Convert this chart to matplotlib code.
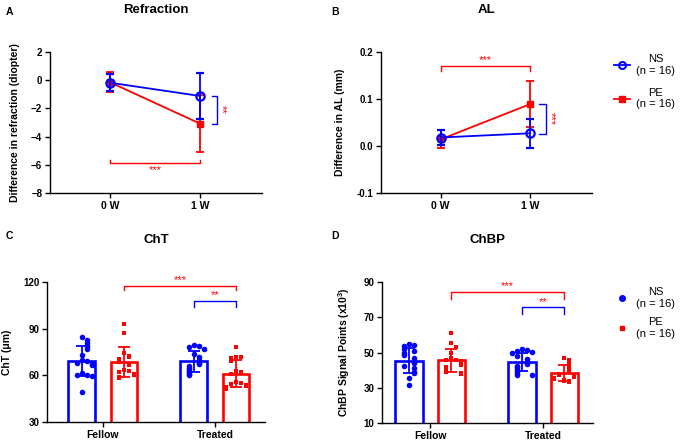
import numpy as np
import matplotlib
matplotlib.use('Agg')
from matplotlib import pyplot as plt
from matplotlib.lines import Line2D

plt.rcParams['font.family'] = ['Liberation Sans', 'DejaVu Sans']
plt.rcParams['mathtext.default'] = 'regular'

BLUE = '#0000FF'
RED = '#FF0000'

# ---- data: line charts (mean, SD) ----
weeks = ['0 W', '1 W']
refr_ns = [-0.18, -1.12]
refr_ns_sd = [0.6, 1.62]
refr_pe = [-0.15, -3.08]
refr_pe_sd = [0.72, 2.0]

al_ns = [0.018, 0.027]
al_ns_sd = [0.015, 0.031]
al_pe = [0.014, 0.089]
al_pe_sd = [0.019, 0.049]

# ---- data: bar charts (individual eyes) ----
groups = ['Fellow', 'Treated']
cht_ns_fellow = [84.5, 82.5, 81, 79, 77, 73, 70, 69, 68, 67.5, 66.5, 61.5, 60.5, 60, 59.5, 49.5]
cht_pe_fellow = [93, 87, 74.5, 72.5, 71.5, 70.5, 69.5, 68.5, 66.5, 63.5, 62.5, 62, 61, 60, 59, 58]
cht_ns_treated = [79.5, 79, 78, 77, 74, 72, 70, 68, 67, 66, 65, 64, 63, 62, 61, 60]
cht_pe_treated = [78, 72, 71.5, 71, 69, 63, 62, 61, 56, 55, 54.5, 54, 53, 52.5, 52, 51.5]

chbp_ns_fellow = [54.8, 54.3, 53.7, 51.8, 51, 49.5, 48.6, 46.7, 44.8, 43.9, 42.3, 41, 39.1, 38.2, 35.3, 31.6]
chbp_pe_fellow = [61, 55.5, 53, 50, 47, 46, 45.5, 45, 44, 43, 42, 41, 40, 39, 38.5, 38]
chbp_ns_treated = [52, 51.5, 51, 50.5, 49.5, 48, 46.5, 44.5, 43.5, 42.5, 41.5, 40.5, 39.5, 38.5, 37.5, 37]
chbp_pe_treated = [47, 46, 44, 42, 40, 39, 38, 37, 36.5, 36, 35.5, 35, 34.5, 34, 34, 33.5]

legend_labels = ['NS\n(n = 16)', 'PE\n(n = 16)']


def style_axes(ax):
    for s in ['top', 'right']:
        ax.spines[s].set_visible(False)
    for s in ['left', 'bottom']:
        ax.spines[s].set_linewidth(1.0)
    ax.tick_params(length=3.5, width=1.0, labelsize=7, pad=2)
    ax.tick_params(axis='x', labelsize=7.5)
    for lab in ax.get_xticklabels() + ax.get_yticklabels():
        lab.set_fontweight('bold')


def swarm(vals, step, thresh, kmax=2):
    # simple deterministic spreading of points with similar values
    offs = []
    placed = []
    for v in vals:
        n = sum(1 for p in placed if abs(p - v) < thresh)
        n = n % (2 * kmax + 1)
        k = (n + 1) // 2
        sign = 1 if n % 2 else -1
        offs.append(0 if n == 0 else sign * k * step)
        placed.append(v)
    return np.array(offs)


def bracket(ax, x1, x2, y, tip, color):
    ax.plot([x1, x1, x2, x2], [y - tip, y, y, y - tip], color=color, lw=1.0, clip_on=False)


fig = plt.figure(figsize=(6.85, 4.4), dpi=100)

# ---------- A: Refraction ----------
axA = fig.add_axes([0.073, 0.5614, 0.3095, 0.3205])
x = np.arange(len(weeks))
axA.errorbar(x, refr_pe, yerr=refr_pe_sd, color=RED, marker='s', ms=5, lw=1.3,
             capsize=3, capthick=1.3, elinewidth=1.3, zorder=3)
axA.errorbar(x, refr_ns, yerr=refr_ns_sd, color=BLUE, marker='o', ms=6, mfc='none',
             mew=1.6, lw=1.3, capsize=3, capthick=1.3, elinewidth=1.3, zorder=4)
axA.set_xlim(-0.667, 1.69)
axA.set_ylim(-8, 2)
axA.set_yticks(range(-8, 3, 2))
axA.set_xticks(x)
axA.set_xticklabels(weeks)
axA.set_ylabel('Difference in refraction (diopter)', fontsize=7.5, fontweight='bold', labelpad=8)
axA.set_title('Refraction', fontsize=9.5, fontweight='bold', pad=28)
style_axes(axA)
# vertical bracket 1W NS vs PE
axA.plot([1.13, 1.19, 1.19, 1.13], [refr_ns[1], refr_ns[1], refr_pe[1], refr_pe[1]],
         color=BLUE, lw=1.0, clip_on=False)
axA.text(1.245, (refr_ns[1] + refr_pe[1]) / 2, '**', color=RED, fontsize=8,
         rotation=-90, ha='center', va='center')
# horizontal bracket PE 0W vs 1W
bracket(axA, 0, 1, -5.9, -0.25, RED)
axA.text(0.5, -6.0, '***', color=RED, fontsize=8, ha='center', va='top')

# ---------- B: AL ----------
axB = fig.add_axes([0.556, 0.5614, 0.308, 0.3205])
axB.errorbar(x, al_pe, yerr=al_pe_sd, color=RED, marker='s', ms=5, lw=1.3,
             capsize=3, capthick=1.3, elinewidth=1.3, zorder=3)
axB.errorbar(x, al_ns, yerr=al_ns_sd, color=BLUE, marker='o', ms=6, mfc='none',
             mew=1.6, lw=1.3, capsize=3, capthick=1.3, elinewidth=1.3, zorder=4)
axB.set_xlim(-0.667, 1.69)
axB.set_ylim(-0.1, 0.2)
axB.set_yticks([-0.1, 0.0, 0.1, 0.2])
axB.set_yticklabels(['-0.1', '0.0', '0.1', '0.2'])
axB.set_xticks(x)
axB.set_xticklabels(weeks)
axB.set_ylabel('Difference in AL (mm)', fontsize=7.5, fontweight='bold', labelpad=8)
axB.set_title('AL', fontsize=9.5, fontweight='bold', pad=28)
style_axes(axB)
bracket(axB, 0, 1, 0.171, 0.011, RED)
axB.text(0.5, 0.172, '***', color=RED, fontsize=8, ha='center', va='bottom')
axB.plot([1.1, 1.178, 1.178, 1.1], [al_pe[1], al_pe[1], al_ns[1] - 0.002, al_ns[1] - 0.002],
         color=BLUE, lw=1.0, clip_on=False)
axB.text(1.235, (al_pe[1] + al_ns[1]) / 2, '***', color=RED, fontsize=8,
         rotation=-90, ha='center', va='center')

lh = [Line2D([], [], color=BLUE, marker='o', mfc='none', mew=1.5, ms=5, lw=1.3),
      Line2D([], [], color=RED, marker='s', ms=4.5, lw=1.3)]
legA = fig.legend(lh, legend_labels, loc='upper left', bbox_to_anchor=(0.882, 0.9),
                  frameon=False, fontsize=8, handlelength=1.4, handletextpad=0.6,
                  labelspacing=1.1)
for t in legA.get_texts():
    t.set_multialignment('center')


# ---------- bar charts ----------
def bar_panel(ax, ns_lists, pe_lists, off_ns, off_pe, width, thresh, step):
    for i, (ns, pe) in enumerate(zip(ns_lists, pe_lists)):
        for vals, off, col, mk, ms in [(ns, off_ns, BLUE, 'o', 16), (pe, off_pe, RED, 's', 8)]:
            vals = np.array(vals)
            m, sd = vals.mean(), vals.std(ddof=1)
            xc = i + off
            ax.bar(xc, m, width=width, facecolor='white', edgecolor=col, linewidth=1.9, zorder=2)
            ax.errorbar(xc, m, yerr=sd, color=col, capsize=4.5, capthick=1.3,
                        elinewidth=1.3, zorder=4)
            ax.scatter(xc + swarm(vals, step, thresh), vals, s=ms, color=col, marker=mk,
                       zorder=3, linewidths=0)


axC = fig.add_axes([0.0686, 0.0409, 0.318, 0.318])
bar_panel(axC, [cht_ns_fellow, cht_ns_treated], [cht_pe_fellow, cht_pe_treated],
          -0.188, 0.188, 0.24, 3.0, 0.045)
axC.set_xlim(-0.5, 1.446)
axC.set_ylim(30, 120)
axC.set_yticks([30, 60, 90, 120])
axC.set_xticks([0, 1])
axC.set_xticklabels(groups)
axC.set_ylabel('ChT (μm)', fontsize=7.5, fontweight='bold', labelpad=8)
axC.set_title('ChT', fontsize=9.5, fontweight='bold', pad=28)
style_axes(axC)
bracket(axC, 0.188, 1.188, 117.6, 2.8, RED)
axC.text(0.688, 117.8, '***', color=RED, fontsize=8, ha='center', va='bottom', clip_on=False)
bracket(axC, 0.812, 1.188, 108, 4, BLUE)
axC.text(1.0, 108.2, '**', color=RED, fontsize=8, ha='center', va='bottom')

axD = fig.add_axes([0.5577, 0.0386, 0.308, 0.3205])
bar_panel(axD, [chbp_ns_fellow, chbp_ns_treated], [chbp_pe_fellow, chbp_pe_treated],
          -0.186, 0.186, 0.24, 2.6, 0.045)
axD.set_xlim(-0.425, 1.442)
axD.set_ylim(10, 90)
axD.set_yticks([10, 30, 50, 70, 90])
axD.set_xticks([0, 1])
axD.set_xticklabels(groups)
axD.set_ylabel('ChBP Signal Points (x10$^3$)', fontsize=7.5, fontweight='bold', labelpad=8)
axD.set_title('ChBP', fontsize=9.5, fontweight='bold', pad=28)
style_axes(axD)
bracket(axD, 0.186, 1.186, 84.4, 4.2, RED)
axD.text(0.686, 84.6, '***', color=RED, fontsize=8, ha='center', va='bottom')
bracket(axD, 0.814, 1.186, 75.6, 3.8, BLUE)
axD.text(1.0, 75.8, '**', color=RED, fontsize=8, ha='center', va='bottom')

lh2 = [Line2D([], [], color=BLUE, marker='o', ms=4, lw=0),
       Line2D([], [], color=RED, marker='s', ms=2.5, lw=0)]
legB = fig.legend(lh2, legend_labels, loc='upper left', bbox_to_anchor=(0.882, 0.37),
                  frameon=False, fontsize=8, handlelength=1.4, handletextpad=0.6,
                  labelspacing=0.75)
for t in legB.get_texts():
    t.set_multialignment('center')

# panel letters
for lx, ly, s in [(0.008, 0.985, 'A'), (0.483, 0.985, 'B'), (0.008, 0.475, 'C'), (0.483, 0.475, 'D')]:
    fig.text(lx, ly, s, fontsize=7.5, fontweight='bold', va='top')

fig.savefig('out.png', dpi=100)
